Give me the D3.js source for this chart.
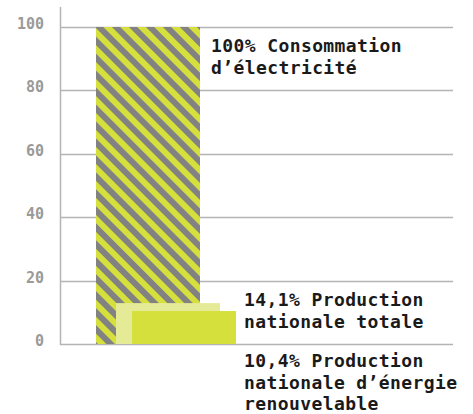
<!DOCTYPE html>
<html>
<head>
<meta charset="utf-8">
<title>Consommation et production</title>
<style>
  body { margin: 0; background: #fff; }
  text { font-family: "DejaVu Sans Mono", monospace; font-weight: bold; }
</style>
</head>
<body>
<script src="https://cdn.jsdelivr.net/npm/d3@7"></script>
<script>

var categories = ["consommation", "production", "renouvelable"];
var values = [100, 12.9, 10.4];
var labels = [
  ["100% Consommation", "d\u2019électricité"],
  ["14,1% Production", "nationale totale"],
  ["10,4% Production", "nationale d\u2019énergie", "renouvelable"]
];
var tickValues = [0, 20, 40, 60, 80, 100];

var width = 473, height = 414,
    axisX = 60, gridEnd = 453,
    barWidth = 104,
    stripe = 12,
    yellow = "#d5e03d",
    pale = "#e5ea97",
    grey = "#828282";

var svg = d3.select("body").append("svg")
    .attr("width", width)
    .attr("height", height);

var y = d3.scaleLinear().domain([0, 100]).range([344, 27]);
// bars are staggered, not side by side
var x = d3.scaleOrdinal().domain(categories).range([96, 116, 132]);

// striped fill for the consumption bar
var pat = svg.append("defs").append("pattern")
    .attr("id", "stripes")
    .attr("patternUnits", "userSpaceOnUse")
    .attr("width", stripe)
    .attr("height", stripe)
    .attr("patternTransform", "rotate(-45)");
pat.append("rect").attr("width", stripe).attr("height", stripe).attr("fill", yellow);
pat.append("rect").attr("width", stripe / 2).attr("height", stripe).attr("fill", grey);

// gridlines
svg.append("g")
  .selectAll("line")
  .data(tickValues)
  .join("line")
    .attr("x1", axisX)
    .attr("x2", gridEnd)
    .attr("y1", function(d) { return Math.round(y(d)) + 0.5; })
    .attr("y2", function(d) { return Math.round(y(d)) + 0.5; })
    .attr("stroke", "#b4b4b4")
    .attr("stroke-width", 1.5);

// y axis line
svg.append("line")
    .attr("x1", axisX + 0.5).attr("x2", axisX + 0.5)
    .attr("y1", 7).attr("y2", y(0) + 1)
    .attr("stroke", "#b4b4b4")
    .attr("stroke-width", 1.5);

// tick labels
svg.append("g")
  .selectAll("text")
  .data(tickValues)
  .join("text")
    .attr("x", 44)
    .attr("y", function(d) { return y(d) + 2; })
    .attr("text-anchor", "end")
    .attr("font-size", 15)
    .attr("fill", "#9a9a9a")
    .text(function(d) { return d; });

// bars
var fills = ["url(#stripes)", pale, yellow];
svg.append("g")
  .selectAll("rect")
  .data(categories)
  .join("rect")
    .attr("x", function(d) { return x(d); })
    .attr("y", function(d, i) { return y(values[i]); })
    .attr("width", barWidth)
    .attr("height", function(d, i) { return y(0) - y(values[i]); })
    .attr("fill", function(d, i) { return fills[i]; });

// labels
var labelPos = [
  [211, y(values[0]) + 25],
  [244, y(values[1]) + 3],
  [244, y(0) + 23]
];
labels.forEach(function(lines, i) {
  var t = svg.append("text")
      .attr("x", labelPos[i][0])
      .attr("y", labelPos[i][1])
      .attr("font-size", 18)
      .attr("letter-spacing", 0.4)
      .attr("fill", "#1a1a1a");
  lines.forEach(function(s, j) {
    t.append("tspan")
        .attr("x", labelPos[i][0])
        .attr("dy", j === 0 ? 0 : 21.5)
        .text(s);
  });
});

</script>
</body>
</html>
